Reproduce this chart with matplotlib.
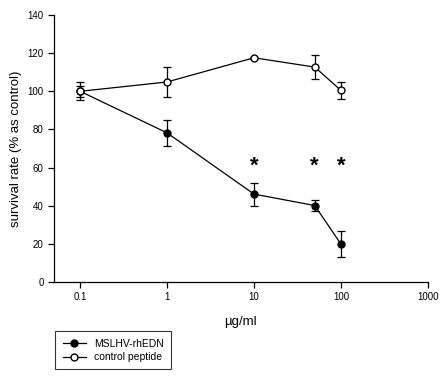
import matplotlib
matplotlib.use("Agg")
import matplotlib.pyplot as plt
from matplotlib.lines import Line2D

plt.rcParams['font.family'] = ['Liberation Sans', 'DejaVu Sans']

# concentrations (ug/ml)
dose = [0.1, 1, 10, 50, 100]

# MSLHV-rhEDN
mslhv = [100, 78.2, 46.1, 40.1, 19.9]
mslhv_err = [3, 6.8, 6, 2.8, 6.7]

# control peptide
ctrl = [100, 104.9, 117.6, 112.7, 100.5]
ctrl_err = [4.7, 8.1, 0.5, 6.1, 4.4]

# significance marks
star_x = [10, 50, 100]
star_y = 62

fig = plt.figure(figsize=(4.44, 3.76), dpi=100)
ax = fig.add_axes([0.1216, 0.25, 0.842, 0.71])

ax.errorbar(dose, mslhv, yerr=mslhv_err, color='black', marker='o', markersize=5,
            markerfacecolor='black', markeredgecolor='black', linewidth=0.9,
            elinewidth=0.9, capsize=3.2, capthick=0.9, zorder=2)
ax.errorbar(dose, ctrl, yerr=ctrl_err, color='black', marker='o', markersize=5,
            markerfacecolor='white', markeredgecolor='black', linewidth=0.9,
            elinewidth=0.9, capsize=3.2, capthick=0.9, zorder=3)

for sx in star_x:
    ax.annotate('*', (sx, star_y), xytext=(0, -2), textcoords='offset points',
                ha='center', va='center', fontsize=16, fontweight='bold')

ax.set_xscale('log')
ax.set_xlim(0.05, 1000)
ax.set_ylim(0, 140)
ax.set_xticks([0.1, 1, 10, 100, 1000])
ax.set_xticklabels(['0.1', '1', '10', '100', '1000'])
ax.minorticks_off()
ax.set_yticks(range(0, 141, 20))

ax.spines['top'].set_visible(False)
ax.spines['right'].set_visible(False)
for s in ['left', 'bottom']:
    ax.spines[s].set_linewidth(0.9)
ax.tick_params(direction='out', length=4, width=0.9, labelsize=7)

ax.set_ylabel('survival rate (% as control)', fontsize=9.5)
ax.set_xlabel('\u00b5g/ml', fontsize=9.5, labelpad=10)

handles = [
    Line2D([], [], color='black', marker='o', markersize=5, markerfacecolor='black',
           linewidth=0.9, label='MSLHV-rhEDN'),
    Line2D([], [], color='black', marker='o', markersize=5, markerfacecolor='white',
           linewidth=0.9, label='control peptide'),
]
leg = ax.legend(handles=handles, loc='upper left', bbox_to_anchor=(-0.01, -0.165),
                fontsize=7.5, frameon=True, fancybox=False, edgecolor='black',
                handlelength=2.2, borderpad=0.7, labelspacing=0.35)
leg.get_frame().set_linewidth(0.8)

fig.savefig('out.png', dpi=100)
